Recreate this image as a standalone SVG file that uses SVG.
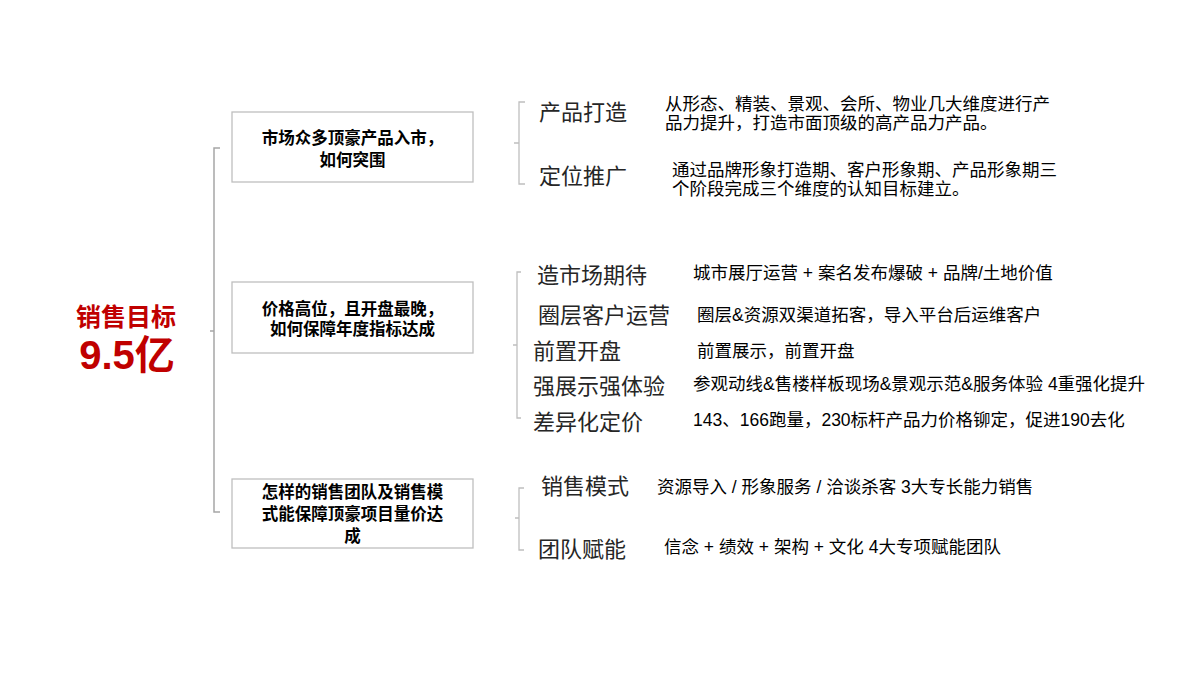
<svg xmlns="http://www.w3.org/2000/svg" width="1200" height="675" viewBox="0 0 1200 675">
<style>
.bg{fill:#ffffff}
.box{fill:#ffffff;stroke:#bfbfbf;stroke-width:1.3}
.br{fill:none;stroke:#bfbfbf;stroke-width:1.3}
.main{fill:none;stroke:#a6a6a6;stroke-width:1.5}
.bt{font-family:"Liberation Sans","Noto Sans CJK SC",sans-serif;font-size:16.5px;font-weight:bold;fill:#000;text-anchor:middle}
.lb{font-family:"Noto Sans CJK SC",sans-serif;font-size:22px;fill:#262626}
.ds{font-family:"Liberation Sans","Noto Sans CJK SC",sans-serif;font-size:17.5px;fill:#000}
.red{font-family:"Liberation Sans","Noto Sans CJK SC",sans-serif;font-weight:bold;fill:#c00000;text-anchor:middle}
</style>
<rect class="bg" x="0" y="0" width="1200" height="675"/>
<g id="connectors">
<path class="main" d="M220,148 H214 V512 H220 M214,331 H210"/>
<path class="br" d="M525,102 H519 V184 H525 M519,143 H514"/>
<path class="br" d="M521,272 H517 V418 H521 M517,345 H513"/>
<path class="br" d="M524,488 H519 V550 H524 M519,518 H515"/>
</g>
<g id="goal">
<text class="red" x="126" y="326" font-size="25">销售目标</text>
<text class="red" x="127" y="369" font-size="40">9.5亿</text>
</g>
<g id="q1">
<rect class="box" x="232" y="112" width="241" height="70"/>
<text class="bt" x="352.5" y="144">市场众多顶豪产品入市，</text>
<text class="bt" x="352.5" y="166">如何突围</text>
</g>
<g id="q2">
<rect class="box" x="232" y="282" width="241" height="71"/>
<text class="bt" x="352.5" y="315">价格高位，且开盘最晚，</text>
<text class="bt" x="352.5" y="335">如何保障年度指标达成</text>
</g>
<g id="q3">
<rect class="box" x="232" y="479" width="241" height="69"/>
<text class="bt" x="352.5" y="498">怎样的销售团队及销售模</text>
<text class="bt" x="352.5" y="520">式能保障顶豪项目量价达</text>
<text class="bt" x="352.5" y="542">成</text>
</g>
<g id="s1a">
<text class="lb" x="539" y="120">产品打造</text>
<text class="ds" x="665" y="110">从形态、精装、景观、会所、物业几大维度进行产</text>
<text class="ds" x="665" y="129">品力提升，打造市面顶级的高产品力产品。</text>
</g>
<g id="s1b">
<text class="lb" x="539" y="184">定位推广</text>
<text class="ds" x="672" y="176">通过品牌形象打造期、客户形象期、产品形象期三</text>
<text class="ds" x="672" y="195">个阶段完成三个维度的认知目标建立。</text>
</g>
<g id="s2a">
<text class="lb" x="537" y="283">造市场期待</text>
<text class="ds" x="693" y="278.5">城市展厅运营 + 案名发布爆破 + 品牌/土地价值</text>
</g>
<g id="s2b">
<text class="lb" x="538" y="323">圈层客户运营</text>
<text class="ds" x="697" y="320.5">圈层&amp;资源双渠道拓客，导入平台后运维客户</text>
</g>
<g id="s2c">
<text class="lb" x="533" y="359">前置开盘</text>
<text class="ds" x="697" y="356.5">前置展示，前置开盘</text>
</g>
<g id="s2d">
<text class="lb" x="533" y="394">强展示强体验</text>
<text class="ds" x="693" y="389.5">参观动线&amp;售楼样板现场&amp;景观示范&amp;服务体验 4重强化提升</text>
</g>
<g id="s2e">
<text class="lb" x="533" y="430">差异化定价</text>
<text class="ds" x="693" y="425.5">143、166跑量，230标杆产品力价格铆定，促进190去化</text>
</g>
<g id="s3a">
<text class="lb" x="541" y="494">销售模式</text>
<text class="ds" x="657" y="492.5">资源导入 / 形象服务 / 洽谈杀客 3大专长能力销售</text>
</g>
<g id="s3b">
<text class="lb" x="538" y="557">团队赋能</text>
<text class="ds" x="664" y="552.5">信念 + 绩效 + 架构 + 文化 4大专项赋能团队</text>
</g>
</svg>
